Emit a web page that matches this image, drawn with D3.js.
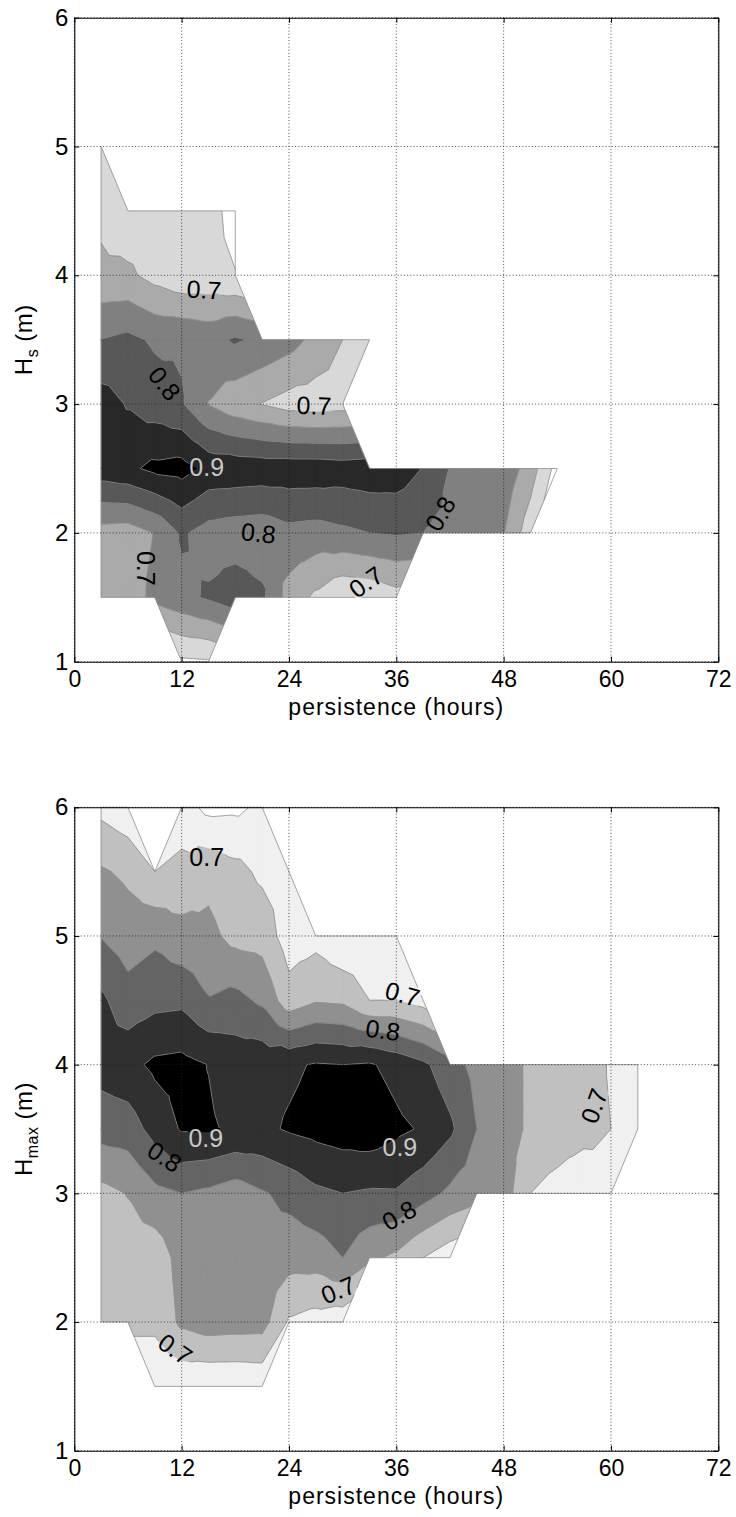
<!DOCTYPE html>
<html><head><meta charset="utf-8"><title>Persistence contours</title>
<script src="https://cdn.jsdelivr.net/npm/d3@7/dist/d3.min.js"></script>
<style>html,body{margin:0;padding:0;background:#fff;} svg{display:block;}</style>
</head><body>
<svg id="fig" width="736" height="1517"></svg>
<script>
const _ = null;
const persistenceTicks = [0, 12, 24, 36, 48, 60, 72];
const heightTicks = [1, 2, 3, 4, 5, 6];
const contourLevels = [0.65, 0.70, 0.75, 0.80, 0.85, 0.90];

// ---- Hs panel (top) ----
const hsPersistence = [3,6,9,12,15,18,21,24,27,30,33,36,39,42,45,48,51,54];
const hsHeights = [5, 4.5, 4, 3.5, 3, 2.5, 2, 1.5, 1];
const hsProbability = [
  [0.670,_,_,_,_,_,_,_,_,_,_,_,_,_,_,_,_,_],
  [0.689,0.662,0.670,0.660,0.670,0.630,_,_,_,_,_,_,_,_,_,_,_,_],
  [0.711,0.710,0.683,0.664,0.664,0.652,_,_,_,_,_,_,_,_,_,_,_,_],
  [0.801,0.812,0.793,0.793,0.783,0.806,0.790,0.770,0.735,0.700,0.670,_,_,_,_,_,_,_],
  [0.873,0.846,0.825,0.805,0.748,0.717,0.698,0.680,0.675,0.680,_,_,_,_,_,_,_,_],
  [0.879,0.890,0.912,0.919,0.885,0.883,0.880,0.880,0.880,0.875,0.880,0.878,0.848,0.798,0.790,0.785,0.725,0.630],
  [0.729,0.725,0.752,0.807,0.780,0.772,0.768,0.785,0.780,0.790,0.800,0.805,0.800,0.780,0.770,0.752,0.670,_],
  [0.720,0.720,0.765,0.786,0.8065,0.830,0.810,0.730,0.690,0.655,0.660,0.680,_,_,_,_,_,_],
  [_,_,_,0.641,0.645,_,_,_,_,_,_,_,_,_,_,_,_,_]
];
const hsShades = ['#ffffff','#d8d8d8','#aaaaaa','#808080','#585858','#282828','#000000'];
const hsLabels = [
  {t:'0.7', x:14.5, y:3.89, r:3},
  {t:'0.8', x:10.1, y:3.16, r:52},
  {t:'0.7', x:26.8, y:2.99, r:2},
  {t:'0.9', x:14.8, y:2.51, r:0, light:true},
  {t:'0.8', x:20.6, y:2.00, r:6},
  {t:'0.7', x:8.0,  y:1.725, r:90},
  {t:'0.7', x:32.6, y:1.62, r:-35},
  {t:'0.8', x:40.9, y:2.15, r:-60}
];

// ---- Hmax panel (bottom) ----
const hmaxPersistence = [3,6,9,12,15,18,21,24,27,30,33,36,39,42,45,48,51,54,57,60,63];
const hmaxHeights = [6, 5.5, 5, 4.5, 4, 3.5, 3, 2.5, 2, 1.5];
const hmaxProbability = [
  [0.686,0.665,_,0.672,0.637,0.640,0.660,_,_,_,_,_,_,_,_,_,_,_,_,_,_],
  [0.756,0.740,0.700,0.715,0.735,0.715,0.690,0.680,_,_,_,_,_,_,_,_,_,_,_,_,_],
  [0.798,0.775,0.790,0.767,0.763,0.735,0.730,0.675,0.684,0.655,0.660,0.660,_,_,_,_,_,_,_,_,_],
  [0.860,0.820,0.835,0.839,0.803,0.815,0.791,0.720,0.745,0.740,0.700,0.700,0.680,_,_,_,_,_,_,_,_],
  [0.870,0.885,0.910,0.915,0.899,0.880,0.885,0.892,0.904,0.900,0.905,0.885,0.860,0.820,0.785,0.775,0.740,0.735,0.725,0.695,0.680],
  [0.820,0.825,0.868,0.9045,0.905,0.893,0.890,0.905,0.915,0.924,0.930,0.910,0.895,0.860,0.800,0.775,0.740,0.730,0.720,0.700,0.680],
  [0.735,0.752,0.787,0.800,0.790,0.774,0.795,0.814,0.840,0.850,0.844,0.845,0.820,0.790,0.770,0.775,0.700,0.680,0.655,0.680,_],
  [0.720,0.725,0.718,0.770,0.775,0.780,0.780,0.770,0.772,0.800,0.760,0.740,0.700,0.670,_,_,_,_,_,_,_],
  [0.710,0.710,0.710,0.760,0.775,0.772,0.770,0.694,0.680,0.670,_,_,_,_,_,_,_,_,_,_,_],
  [_,_,0.665,0.660,0.655,0.655,0.660,_,_,_,_,_,_,_,_,_,_,_,_,_,_]
];
const hmaxShades = ['#ffffff','#f0f0f0','#c0c0c0','#909090','#646464','#303030','#000000'];
const hmaxLabels = [
  {t:'0.7', x:14.8, y:5.61, r:0},
  {t:'0.7', x:36.7, y:4.55, r:15},
  {t:'0.8', x:34.5, y:4.27, r:8},
  {t:'0.7', x:58.1, y:3.68, r:-70},
  {t:'0.9', x:14.7, y:3.43, r:0, light:true},
  {t:'0.8', x:10.1, y:3.285, r:32},
  {t:'0.9', x:36.4, y:3.36, r:0, light:true},
  {t:'0.8', x:36.3, y:2.83, r:-30},
  {t:'0.7', x:29.5, y:2.25, r:-22},
  {t:'0.7', x:11.3, y:1.79, r:35}
];

const panels = [
  {top:17.7, bottom:661.7, cols:hsPersistence, rows:hsHeights, vals:hsProbability,
   shades:hsShades, labels:hsLabels, ySub:'s'},
  {top:807.3, bottom:1450.7, cols:hmaxPersistence, rows:hmaxHeights, vals:hmaxProbability,
   shades:hmaxShades, labels:hmaxLabels, ySub:'max'}
];

const FONT = '"Liberation Sans", Arial, Helvetica, sans-serif';
const svg = d3.select('#fig');
const defs = svg.append('defs');

function buildTriangles(rows, cols, vals) {
  const tris = [];
  for (let r = 0; r < rows.length - 1; r++) {
    for (let c = 0; c < cols.length - 1; c++) {
      const corners = [
        {x:cols[c],   y:rows[r],   v:vals[r][c],     k:r+','+c},
        {x:cols[c+1], y:rows[r],   v:vals[r][c+1],   k:r+','+(c+1)},
        {x:cols[c+1], y:rows[r+1], v:vals[r+1][c+1], k:(r+1)+','+(c+1)},
        {x:cols[c],   y:rows[r+1], v:vals[r+1][c],   k:(r+1)+','+c}
      ];
      const valid = corners.filter(p => p.v !== null);
      if (valid.length === 4) {
        const ctr = {x:(cols[c]+cols[c+1])/2, y:(rows[r]+rows[r+1])/2,
                     v:d3.mean(corners, p => p.v), k:'c'+r+','+c};
        for (let i = 0; i < 4; i++) tris.push([corners[i], corners[(i+1)%4], ctr]);
      } else if (valid.length === 3) {
        tris.push(valid);
      }
    }
  }
  return tris;
}

function clip(poly, L, above) {
  const out = [];
  const n = poly.length;
  for (let i = 0; i < n; i++) {
    const a = poly[i], b = poly[(i+1)%n];
    const ina = above ? a.v >= L : a.v <= L;
    const inb = above ? b.v >= L : b.v <= L;
    if (ina) out.push(a);
    if (ina !== inb) {
      const t = (L - a.v) / (b.v - a.v);
      out.push({x:a.x + t*(b.x-a.x), y:a.y + t*(b.y-a.y), v:L});
    }
  }
  return out;
}

function drawPanel(p, idx) {
  const x = d3.scaleLinear().domain([0, 72]).range([74.3, 718.3]);
  const y = d3.scaleLinear().domain([1, 6]).range([p.bottom, p.top]);
  const g = svg.append('g');
  const tris = buildTriangles(p.rows, p.cols, p.vals);
  const pt = q => x(q.x).toFixed(2) + ',' + y(q.y).toFixed(2);

  // filled bands
  for (let k = 0; k <= contourLevels.length; k++) {
    const lo = k > 0 ? contourLevels[k-1] : null;
    const hi = k < contourLevels.length ? contourLevels[k] : null;
    let d = '';
    for (const t of tris) {
      let poly = t;
      if (lo !== null) poly = clip(poly, lo, true);
      if (poly.length >= 3 && hi !== null) poly = clip(poly, hi, false);
      if (poly.length >= 3) d += 'M' + poly.map(pt).join('L') + 'Z';
    }
    if (d) g.append('path').attr('d', d).attr('fill', p.shades[k])
      .attr('stroke', p.shades[k]).attr('stroke-width', 0.6).attr('stroke-linejoin', 'round');
  }

  // mask that breaks contour lines under labels
  const mask = defs.append('mask').attr('id', 'lblmask' + idx)
    .attr('maskUnits', 'userSpaceOnUse').attr('x', 0).attr('y', 0).attr('width', 736).attr('height', 1517);
  mask.append('rect').attr('x', 0).attr('y', 0).attr('width', 736).attr('height', 1517).attr('fill', '#fff');
  p.labels.forEach(l => {
    mask.append('rect').attr('x', -18).attr('y', -10).attr('width', 36).attr('height', 20)
      .attr('fill', '#000')
      .attr('transform', `translate(${x(l.x)},${y(l.y)}) rotate(${l.r})`);
  });

  // contour lines
  let dl = '';
  for (const L of contourLevels) {
    for (const t of tris) {
      const pts = [];
      for (let i = 0; i < 3; i++) {
        const a = t[i], b = t[(i+1)%3];
        const da = a.v - L, db = b.v - L;
        if ((da < 0) !== (db < 0)) {
          const s = da / (da - db);
          pts.push({x:a.x + s*(b.x-a.x), y:a.y + s*(b.y-a.y)});
        }
      }
      if (pts.length === 2) dl += 'M' + pt(pts[0]) + 'L' + pt(pts[1]);
    }
  }
  // outline of data domain
  const edgeCount = new Map();
  for (const t of tris) {
    for (let i = 0; i < t.length; i++) {
      const a = t[i], b = t[(i+1)%t.length];
      const key = [a.k, b.k].sort().join('|');
      const e = edgeCount.get(key);
      if (e) e.n++; else edgeCount.set(key, {n:1, a, b});
    }
  }
  for (const e of edgeCount.values()) if (e.n === 1) dl += 'M' + pt(e.a) + 'L' + pt(e.b);
  g.append('path').attr('d', dl).attr('fill', 'none').attr('stroke', '#8f8f8f')
    .attr('stroke-width', 0.8).attr('mask', `url(#lblmask${idx})`);

  // grid
  const grid = g.append('g').attr('stroke', '#222').attr('stroke-width', 0.8)
    .attr('stroke-dasharray', '1,2.2');
  persistenceTicks.forEach(v => grid.append('line').attr('x1', x(v)).attr('x2', x(v))
    .attr('y1', p.top).attr('y2', p.bottom));
  heightTicks.forEach(v => grid.append('line').attr('x1', x(0)).attr('x2', x(72))
    .attr('y1', y(v)).attr('y2', y(v)));

  // axes (box with inward ticks)
  const fmt = d3.format('d');
  const axB = g.append('g').attr('transform', `translate(0,${p.bottom})`)
    .call(d3.axisBottom(x).tickValues(persistenceTicks).tickFormat(fmt)
      .tickSizeInner(-5).tickSizeOuter(0).tickPadding(9));
  const axL = g.append('g').attr('transform', `translate(${x(0)},0)`)
    .call(d3.axisLeft(y).tickValues(heightTicks).tickFormat(fmt)
      .tickSizeInner(-5).tickSizeOuter(0).tickPadding(6));
  g.append('g').attr('transform', `translate(0,${p.top})`)
    .call(d3.axisTop(x).tickValues(persistenceTicks).tickSizeInner(-5).tickSizeOuter(0).tickFormat(''));
  g.append('g').attr('transform', `translate(${x(72)},0)`)
    .call(d3.axisRight(y).tickValues(heightTicks).tickSizeInner(-5).tickSizeOuter(0).tickFormat(''));
  axB.attr('font-size', 23).attr('font-family', FONT);
  axL.attr('font-size', 24).attr('font-family', FONT);
  g.selectAll('.domain').attr('stroke', '#000').attr('stroke-width', 1.1);
  g.selectAll('.tick line').attr('stroke', '#000');
  g.selectAll('.tick text').attr('fill', '#000');

  // axis titles
  g.append('text').attr('x', (x(0)+x(72))/2).attr('y', p.bottom + 53)
    .attr('text-anchor', 'middle').attr('font-size', 23).attr('font-family', FONT)
    .attr('letter-spacing', 1)
    .text('persistence (hours)');
  const yt = g.append('text').attr('transform', `translate(32,${(p.top+p.bottom)/2}) rotate(-90)`)
    .attr('text-anchor', 'middle').attr('font-size', 24).attr('font-family', FONT)
    .attr('letter-spacing', 0.5);
  yt.append('tspan').text('H');
  yt.append('tspan').attr('dy', 6).attr('font-size', 16).text(p.ySub);
  yt.append('tspan').attr('dy', -6).text(' (m)');

  // contour labels
  p.labels.forEach(l => {
    g.append('text').attr('transform', `translate(${x(l.x)},${y(l.y)}) rotate(${l.r})`)
      .attr('text-anchor', 'middle').attr('dy', '0.36em')
      .attr('font-size', 25).attr('font-family', FONT)
      .attr('fill', l.light ? '#c8c8c8' : '#000')
      .text(l.t);
  });
}

panels.forEach(drawPanel);
</script>
</body></html>
